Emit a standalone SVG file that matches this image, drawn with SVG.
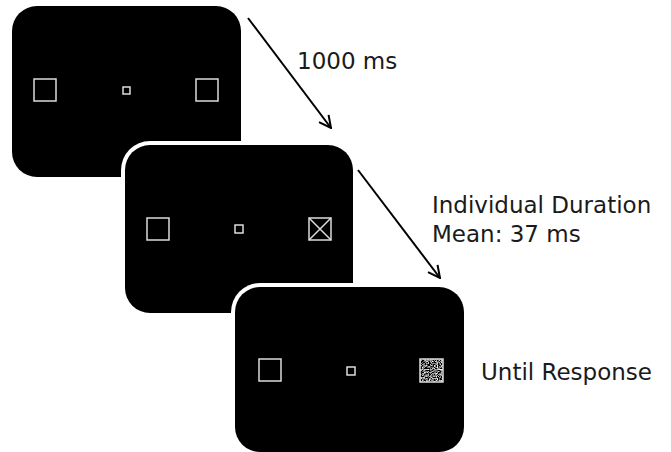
<svg xmlns="http://www.w3.org/2000/svg" width="671" height="452" viewBox="0 0 671 452">
<style>
.panel{fill:#000}
.halo{fill:#fff}
.box{fill:none;stroke:#dcdcdc;stroke-width:1.5}
.lbl{font-family:"DejaVu Sans",Verdana,sans-serif;font-size:23px;fill:#1a1a1a}
.arrow{stroke:#000;stroke-width:2;fill:none;marker-end:url(#head)}
</style>
<defs>
<marker id="head" viewBox="0 0 14 14" refX="13" refY="7" markerWidth="14" markerHeight="14" markerUnits="userSpaceOnUse" orient="auto">
<path d="M1,1 L13,7 L1,13" fill="none" stroke="#000" stroke-width="2"/>
</marker>
<filter id="noise" x="0" y="0" width="100%" height="100%" filterUnits="objectBoundingBox">
<feTurbulence type="fractalNoise" baseFrequency="0.75" numOctaves="2" seed="7" result="t"/>
<feColorMatrix type="matrix" values="0.33 0.33 0.33 0 0 0.33 0.33 0.33 0 0 0.33 0.33 0.33 0 0 0 0 0 0 1"/>
<feComponentTransfer>
<feFuncR type="linear" slope="5" intercept="-2.3"/>
<feFuncG type="linear" slope="5" intercept="-2.3"/>
<feFuncB type="linear" slope="5" intercept="-2.3"/>
</feComponentTransfer>
</filter>
</defs>

<g id="panel1">
<rect class="panel" x="12" y="6" width="229" height="171" rx="25"/>
<rect class="box" x="34" y="79" width="22" height="22"/>
<rect class="box" x="123" y="87" width="7" height="7"/>
<rect class="box" x="196" y="79" width="22" height="22"/>
</g>

<g id="panel2">
<rect class="halo" x="121" y="141" width="236" height="176" rx="29"/>
<rect class="panel" x="125" y="145" width="228" height="168" rx="25"/>
<rect class="box" x="147" y="218" width="22" height="22"/>
<rect class="box" x="235" y="225" width="8" height="8"/>
<rect class="box" x="309" y="218" width="22" height="22"/>
<path class="box" d="M309,218 L331,240 M331,218 L309,240" stroke-width="1"/>
</g>

<g id="panel3">
<rect class="halo" x="231" y="283" width="237" height="175" rx="29"/>
<rect class="panel" x="235" y="287" width="229" height="165" rx="25"/>
<rect class="box" x="259" y="359" width="22" height="22"/>
<rect class="box" x="347" y="367" width="8" height="8"/>
<rect x="420" y="359" width="23" height="23" fill="#000" filter="url(#noise)"/>
<rect class="box" x="420" y="359" width="23" height="23" stroke-width="1"/>
</g>

<g id="connectors">
<line class="arrow" x1="248" y1="18" x2="331" y2="128"/>
<line class="arrow" x1="358" y1="170" x2="440" y2="278"/>
</g>

<g id="labels">
<text class="lbl" x="297" y="69">1000 ms</text>
<text class="lbl" x="432" y="213">Individual Duration</text>
<text class="lbl" x="432" y="242">Mean: 37 ms</text>
<text class="lbl" x="481" y="380">Until Response</text>
</g>
</svg>
